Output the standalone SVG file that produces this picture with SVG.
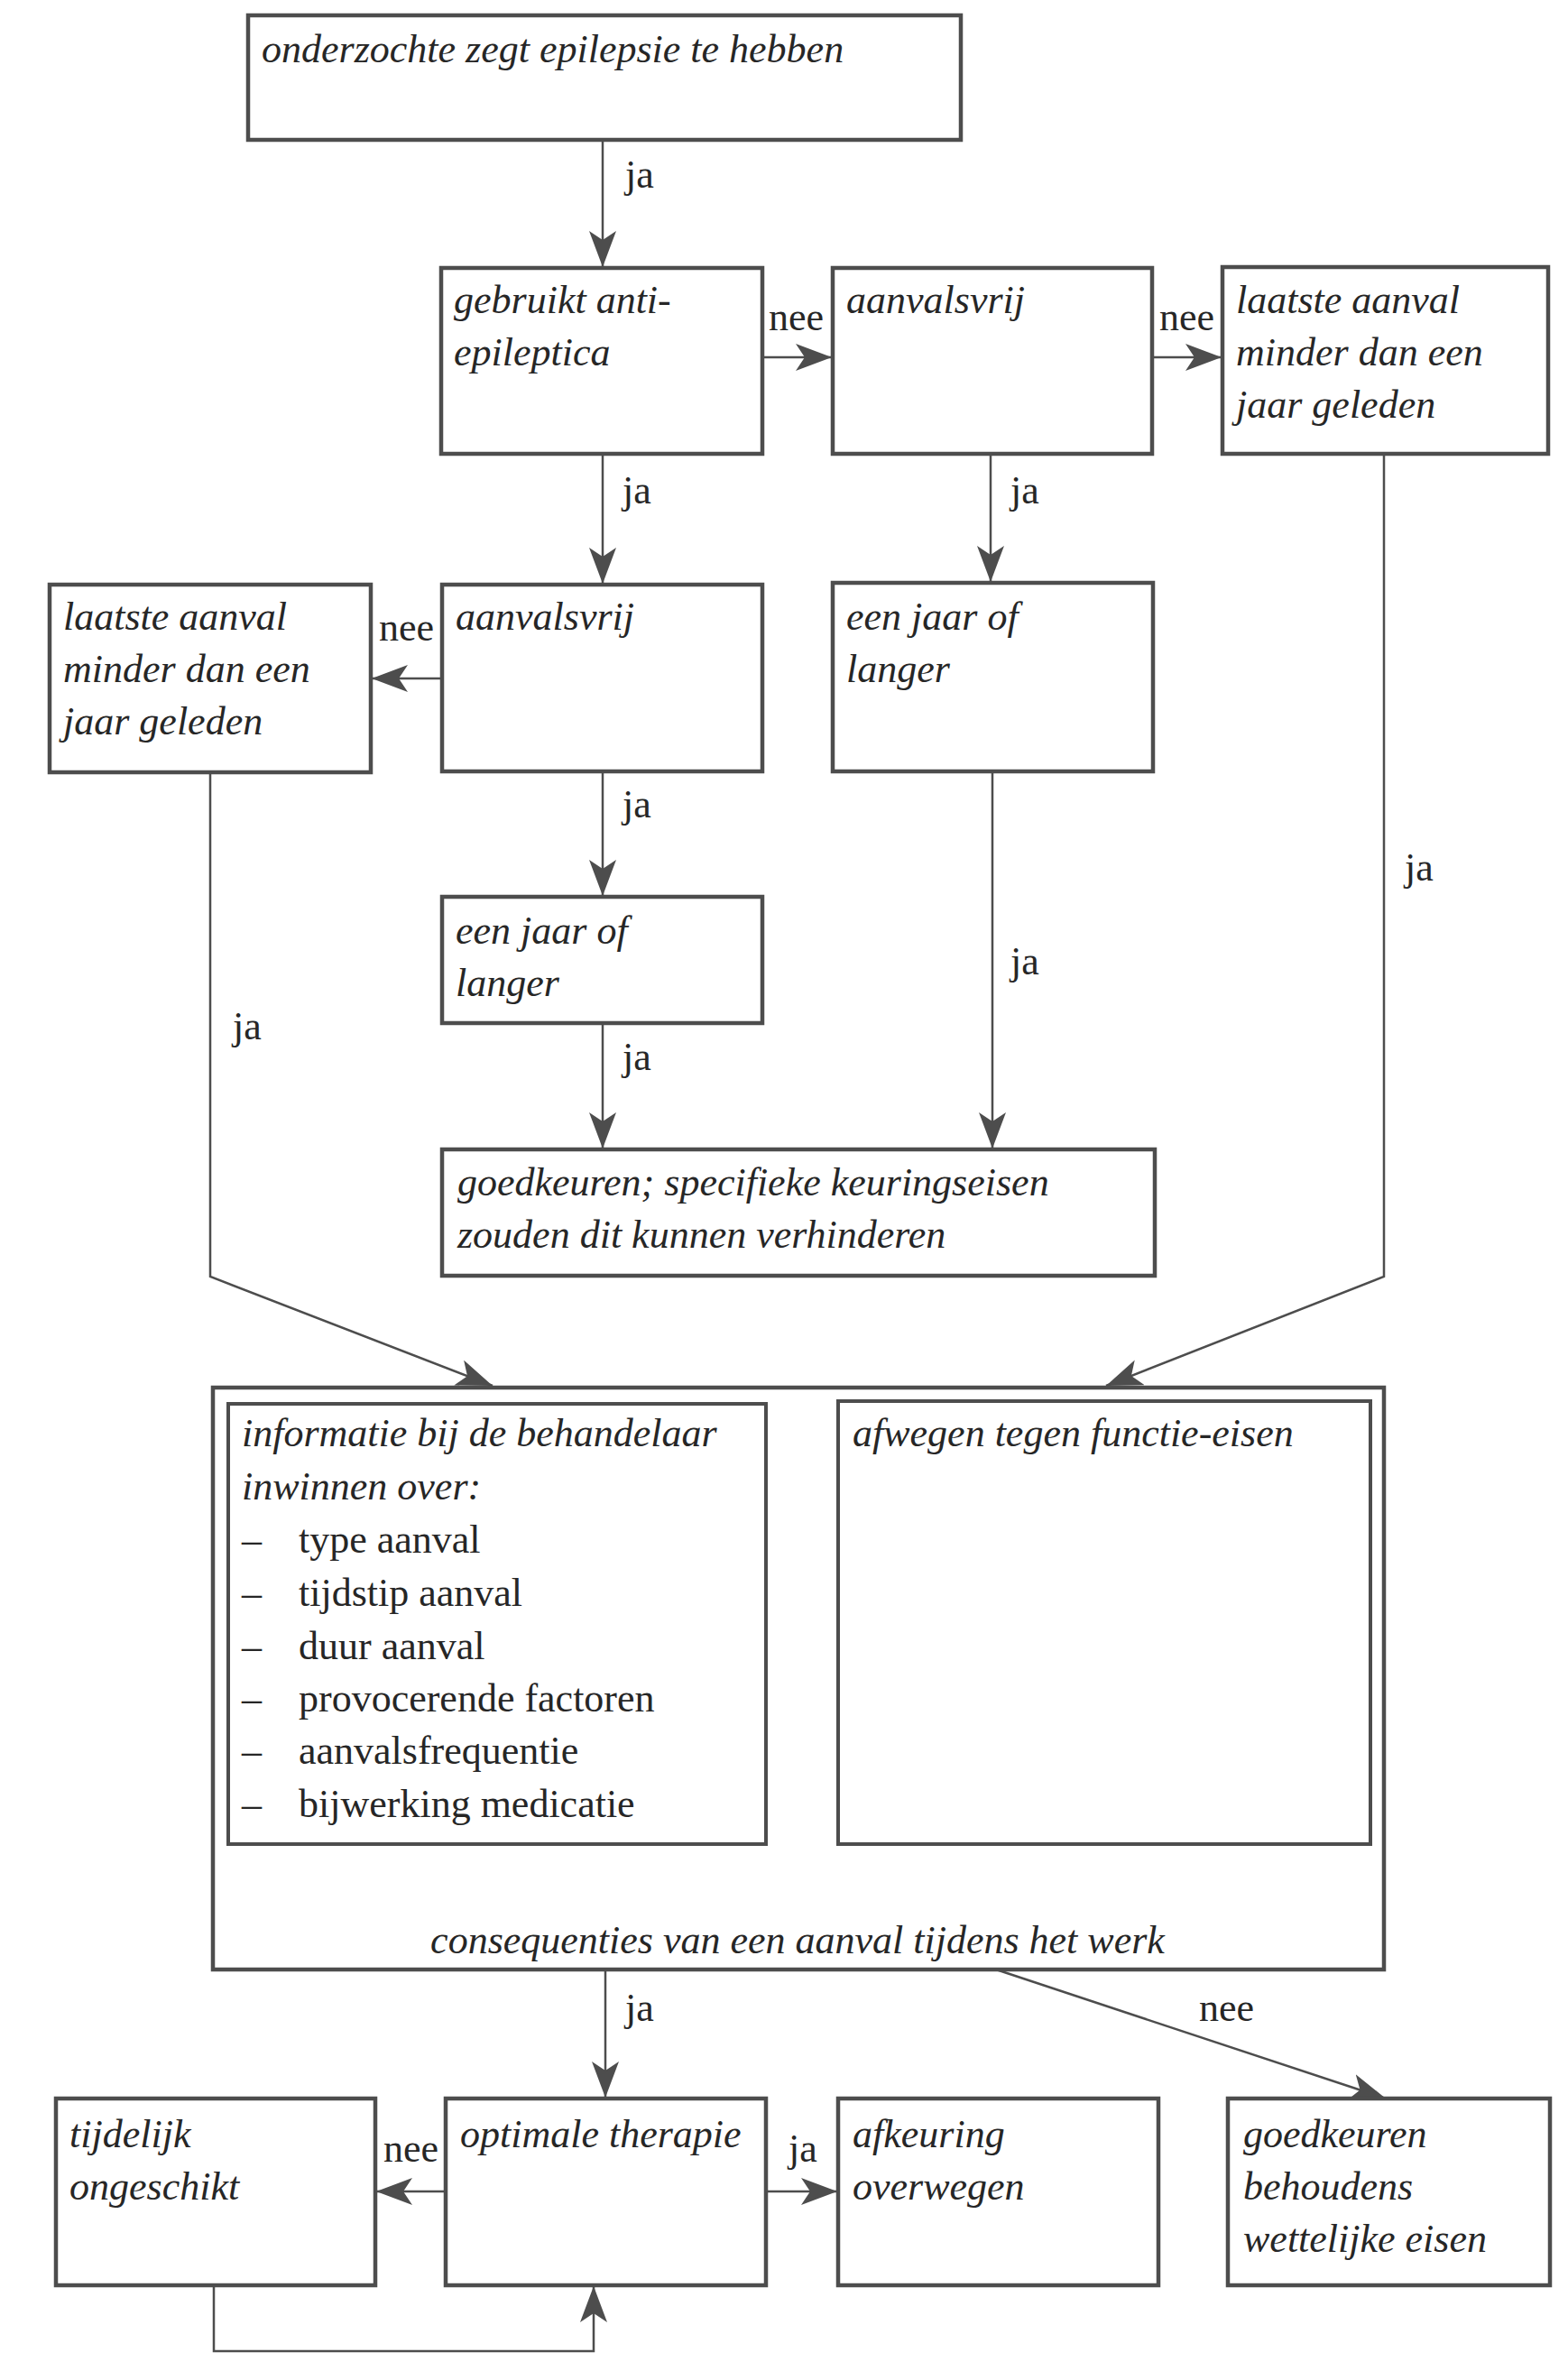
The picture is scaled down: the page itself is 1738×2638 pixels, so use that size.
<svg xmlns="http://www.w3.org/2000/svg" width="1738" height="2638" viewBox="0 0 1738 2638">
<defs>
<style>
.box{fill:#fff;stroke:#4d4d4d;stroke-width:4.5}
.inner{fill:none;stroke:#4d4d4d;stroke-width:4}
.t{font-family:"Liberation Serif","Times New Roman",serif;font-style:italic;font-size:44px;fill:#262626}
.u{font-family:"Liberation Serif","Times New Roman",serif;font-size:44px;fill:#262626}
.c{fill:none;stroke:#4d4d4d;stroke-width:2.5}
</style>
<marker id="ah" markerUnits="userSpaceOnUse" markerWidth="42" markerHeight="32" refX="40" refY="15" orient="auto">
<path d="M0,0 L40,15 L0,30 L10,15 z" fill="#4d4d4d"/>
</marker>
</defs>
<rect width="1738" height="2638" fill="#fff"/>

<g id="connectors">
<line class="c" x1="668" y1="155" x2="668" y2="296" marker-end="url(#ah)"/>
<text class="u" x="693" y="208">ja</text>
<line class="c" x1="845" y1="396" x2="922" y2="396" marker-end="url(#ah)"/>
<text class="u" x="852" y="366">nee</text>
<line class="c" x1="1277" y1="396" x2="1354" y2="396" marker-end="url(#ah)"/>
<text class="u" x="1285" y="366">nee</text>
<line class="c" x1="668" y1="503" x2="668" y2="647" marker-end="url(#ah)"/>
<text class="u" x="690" y="558">ja</text>
<line class="c" x1="1098" y1="503" x2="1098" y2="645" marker-end="url(#ah)"/>
<text class="u" x="1120" y="558">ja</text>
<line class="c" x1="490" y1="752" x2="412" y2="752" marker-end="url(#ah)"/>
<text class="u" x="420" y="710">nee</text>
<line class="c" x1="668" y1="855" x2="668" y2="993" marker-end="url(#ah)"/>
<text class="u" x="690" y="906">ja</text>
<line class="c" x1="668" y1="1134" x2="668" y2="1273" marker-end="url(#ah)"/>
<text class="u" x="690" y="1186">ja</text>
<line class="c" x1="1100" y1="855" x2="1100" y2="1273" marker-end="url(#ah)"/>
<text class="u" x="1120" y="1080">ja</text>
<polyline class="c" points="233,856 233,1415 546,1536" marker-end="url(#ah)"/>
<text class="u" x="258" y="1152">ja</text>
<polyline class="c" points="1534,503 1534,1415 1226,1536" marker-end="url(#ah)"/>
<text class="u" x="1557" y="976">ja</text>
<line class="c" x1="671" y1="2183" x2="671" y2="2325" marker-end="url(#ah)"/>
<text class="u" x="693" y="2240">ja</text>
<line class="c" x1="1104" y1="2183" x2="1536" y2="2326" marker-end="url(#ah)"/>
<text class="u" x="1329" y="2240">nee</text>
<line class="c" x1="494" y1="2429" x2="417" y2="2429" marker-end="url(#ah)"/>
<text class="u" x="425" y="2396">nee</text>
<line class="c" x1="849" y1="2429" x2="928" y2="2429" marker-end="url(#ah)"/>
<text class="u" x="874" y="2396">ja</text>
<polyline class="c" points="237,2533 237,2606 658,2606 658,2534" marker-end="url(#ah)"/>
</g>

<g id="n-start">
<rect class="box" x="275" y="17" width="790" height="138"/>
<text class="t" x="290" y="69">onderzochte zegt epilepsie te hebben</text>
</g>
<g id="n-gebruikt">
<rect class="box" x="489" y="297" width="356" height="206"/>
<text class="t" x="503" y="347">gebruikt anti-</text>
<text class="t" x="503" y="405">epileptica</text>
</g>
<g id="n-aanvalsvrij1">
<rect class="box" x="923" y="297" width="354" height="206"/>
<text class="t" x="938" y="347">aanvalsvrij</text>
</g>
<g id="n-laatste1">
<rect class="box" x="1355" y="296" width="361" height="207"/>
<text class="t" x="1370" y="347">laatste aanval</text>
<text class="t" x="1370" y="405">minder dan een</text>
<text class="t" x="1370" y="463">jaar geleden</text>
</g>
<g id="n-aanvalsvrij2">
<rect class="box" x="490" y="648" width="355" height="207"/>
<text class="t" x="505" y="698">aanvalsvrij</text>
</g>
<g id="n-laatste2">
<rect class="box" x="55" y="648" width="356" height="208"/>
<text class="t" x="70" y="698">laatste aanval</text>
<text class="t" x="70" y="756">minder dan een</text>
<text class="t" x="70" y="814">jaar geleden</text>
</g>
<g id="n-eenjaar1">
<rect class="box" x="923" y="646" width="355" height="209"/>
<text class="t" x="938" y="698">een jaar of</text>
<text class="t" x="938" y="756">langer</text>
</g>
<g id="n-eenjaar2">
<rect class="box" x="490" y="994" width="355" height="140"/>
<text class="t" x="505" y="1046">een jaar of</text>
<text class="t" x="505" y="1104">langer</text>
</g>
<g id="n-goedkeuren">
<rect class="box" x="490" y="1274" width="790" height="140"/>
<text class="t" x="507" y="1325">goedkeuren; specifieke keuringseisen</text>
<text class="t" x="507" y="1383">zouden dit kunnen verhinderen</text>
</g>
<g id="n-consequenties">
<rect class="box" x="236" y="1538" width="1298" height="645"/>
<text class="t" x="884" y="2165" text-anchor="middle">consequenties van een aanval tijdens het werk</text>
</g>
<g id="n-informatie">
<rect class="inner" x="253" y="1556" width="596" height="488"/>
<text class="t" x="268" y="1603">informatie bij de behandelaar</text>
<text class="t" x="268" y="1662">inwinnen over:</text>
<g class="u">
<text x="268" y="1721">–</text><text x="331" y="1721">type aanval</text>
<text x="268" y="1780">–</text><text x="331" y="1780">tijdstip aanval</text>
<text x="268" y="1839">–</text><text x="331" y="1839">duur aanval</text>
<text x="268" y="1897">–</text><text x="331" y="1897">provocerende factoren</text>
<text x="268" y="1955">–</text><text x="331" y="1955">aanvalsfrequentie</text>
<text x="268" y="2014">–</text><text x="331" y="2014">bijwerking medicatie</text>
</g>
</g>
<g id="n-afwegen">
<rect class="inner" x="929" y="1553" width="590" height="491"/>
<text class="t" x="945" y="1603">afwegen tegen functie-eisen</text>
</g>
<g id="n-tijdelijk">
<rect class="box" x="62" y="2326" width="354" height="207"/>
<text class="t" x="77" y="2380">tijdelijk</text>
<text class="t" x="77" y="2438">ongeschikt</text>
</g>
<g id="n-optimale">
<rect class="box" x="494" y="2326" width="355" height="207"/>
<text class="t" x="510" y="2380">optimale therapie</text>
</g>
<g id="n-afkeuring">
<rect class="box" x="929" y="2326" width="355" height="207"/>
<text class="t" x="945" y="2380">afkeuring</text>
<text class="t" x="945" y="2438">overwegen</text>
</g>
<g id="n-goedkeuren2">
<rect class="box" x="1361" y="2326" width="357" height="207"/>
<text class="t" x="1378" y="2380">goedkeuren</text>
<text class="t" x="1378" y="2438">behoudens</text>
<text class="t" x="1378" y="2496">wettelijke eisen</text>
</g>
</svg>
